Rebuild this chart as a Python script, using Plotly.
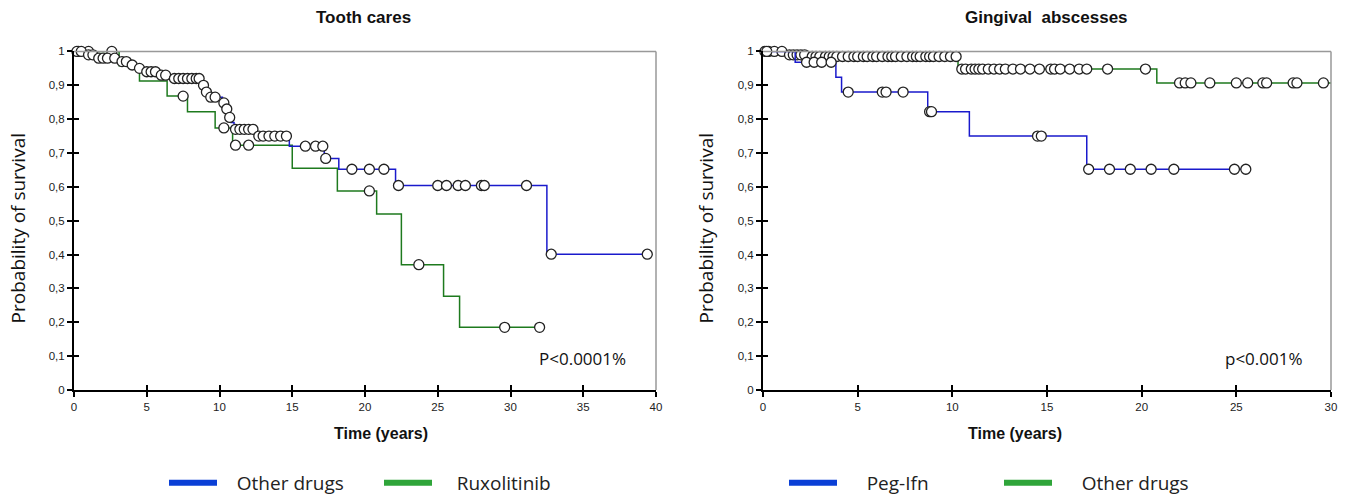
import numpy as np
import plotly.graph_objects as go

# ---------------- DATA ----------------
# Left panel: Tooth cares
tc_other_t = [0, 0.8, 1.5, 3.0, 3.8, 4.3, 4.9, 5.8, 6.6, 8.7, 9.0, 9.2, 10.2, 10.5, 10.6, 10.8, 11.0,
              12.5, 14.8, 17.2, 18.2, 22.1, 32.5, 39.4]
tc_other_s = [1.0, 0.99, 0.98, 0.97, 0.96, 0.95, 0.94, 0.93, 0.92, 0.90, 0.88, 0.865, 0.848, 0.83, 0.805,
              0.79, 0.77, 0.75, 0.72, 0.684, 0.652, 0.604, 0.401, 0.401]
tc_other_cens = [0.2, 0.5, 1.0, 1.3, 1.7, 2.0, 2.3, 2.8, 3.3, 3.6, 4.0, 4.5, 5.0, 5.3, 5.6, 6.0, 6.3, 6.9,
                 7.2, 7.5, 7.8, 8.1, 8.4, 8.6, 8.9, 9.1, 9.4, 9.7, 10.3, 10.5, 10.7, 11.1, 11.4, 11.7,
                 12.0, 12.3, 12.7, 13.0, 13.4, 13.8, 14.2, 14.6, 15.9, 16.6, 17.1, 17.3, 19.1, 20.3,
                 21.3, 22.3, 25.0, 25.6, 26.4, 26.9, 28.0, 28.2, 31.1, 32.8, 39.4]

tc_rux_t = [0, 3.1, 4.5, 6.4, 7.8, 9.7, 10.9, 15.0, 18.1, 20.8, 22.5, 25.4, 26.5, 32.0]
tc_rux_s = [1.0, 0.958, 0.913, 0.868, 0.822, 0.774, 0.723, 0.655, 0.588, 0.52, 0.37, 0.277, 0.185, 0.185]
tc_rux_cens = [0.3, 1.0, 2.6, 7.5, 10.3, 11.1, 12.0, 20.3, 23.7, 29.6, 32.0]

# Right panel: Gingival abscesses
ga_peg_t = [0, 1.7, 3.85, 4.15, 8.7, 10.9, 17.1, 25.5]
ga_peg_s = [1.0, 0.968, 0.924, 0.88, 0.822, 0.75, 0.652, 0.652]
ga_peg_cens = [0.2, 2.3, 2.7, 3.1, 3.6, 4.5, 6.3, 6.5, 7.4, 8.8, 8.9, 14.5, 14.7, 17.2, 18.3,
               19.4, 20.5, 21.7, 24.9, 25.5]

ga_other_t = [0, 1.2, 2.5, 10.3, 20.8, 30.0]
ga_other_s = [1.0, 0.99, 0.985, 0.948, 0.907, 0.907]
ga_other_cens = [0.1, 0.3, 0.6, 1.0, 1.4, 1.6, 1.8, 2.0, 2.2, 2.6, 2.8, 3.0, 3.3, 3.5, 3.7, 3.9, 4.2,
                 4.5, 4.8, 5.0, 5.3, 5.5, 5.8, 6.0, 6.3, 6.6, 6.8, 7.0, 7.3, 7.6, 7.9, 8.1, 8.3, 8.6,
                 8.8, 9.0, 9.3, 9.6, 9.9, 10.2, 10.5, 10.7, 11.0, 11.2, 11.4, 11.6, 11.9, 12.2, 12.5,
                 12.8, 13.2, 13.6, 14.1, 14.6, 15.2, 15.4, 15.7, 16.2, 16.7, 17.1, 18.2, 20.2, 22.0,
                 22.3, 22.6, 23.6, 25.0, 25.6, 26.4, 26.6, 28.0, 28.2, 29.6]

y_tickvals = [0, 0.1, 0.2, 0.3, 0.4, 0.5, 0.6, 0.7, 0.8, 0.9, 1]
y_ticktext = ["0", "0,1", "0,2", "0,3", "0,4", "0,5", "0,6", "0,7", "0,8", "0,9", "1"]
left_xticks = [0, 5, 10, 15, 20, 25, 30, 35, 40]
right_xticks = [0, 5, 10, 15, 20, 25, 30]

BLUE = "#1a1acc"
GREEN = "#1e7a1e"
LEG_BLUE = "#0a3fd6"
LEG_GREEN = "#2fa53a"
FONT = "Liberation Sans"
FONT2 = "Open Sans"


def step_value(times, surv, t):
    idx = np.searchsorted(np.asarray(times), t, side="right") - 1
    return np.asarray(surv)[np.clip(idx, 0, len(surv) - 1)]


fig = go.Figure()


def add_curve(t, s, cens, color, xa, ya):
    fig.add_trace(go.Scatter(x=t, y=s, mode="lines", line=dict(color=color, width=1.5, shape="hv"),
                             xaxis=xa, yaxis=ya, showlegend=False, cliponaxis=False, hoverinfo="skip"))
    fig.add_trace(go.Scatter(x=cens, y=step_value(t, s, cens), mode="markers",
                             marker=dict(symbol="circle", size=10, color="white",
                                         line=dict(color="#222222", width=1.3)),
                             xaxis=xa, yaxis=ya, showlegend=False, cliponaxis=False))


add_curve(tc_rux_t, tc_rux_s, tc_rux_cens, GREEN, "x", "y")
add_curve(tc_other_t, tc_other_s, tc_other_cens, BLUE, "x", "y")
add_curve(ga_other_t, ga_other_s, ga_other_cens, GREEN, "x2", "y2")
add_curve(ga_peg_t, ga_peg_s, ga_peg_cens, BLUE, "x2", "y2")

# invisible traces to activate overlay axes (inner half of crossing ticks)
fig.add_trace(go.Scatter(x=[None], y=[None], xaxis="x3", yaxis="y3", showlegend=False))
fig.add_trace(go.Scatter(x=[None], y=[None], xaxis="x4", yaxis="y4", showlegend=False))

# legend entries
for name, col, leg in [("   Other drugs", LEG_BLUE, "legend"), ("    Ruxolitinib", LEG_GREEN, "legend"),
                       ("     Peg-Ifn", LEG_BLUE, "legend2"), ("     Other drugs", LEG_GREEN, "legend2")]:
    fig.add_trace(go.Scatter(x=[None], y=[None], mode="lines", name=name,
                             line=dict(color=col, width=6), legend=leg, showlegend=True))

W, H = 1347, 502
ydom = [1 - 399.5 / H, 1 - 52.7 / H]
xdom1 = [74 / W, 656 / W]
xdom2 = [763 / W, 1331 / W]

axis_common = dict(showgrid=False, zeroline=False, showline=True, linecolor="black", linewidth=2,
                   ticks="outside", ticklen=5, tickwidth=1.5, tickcolor="black", automargin=False,
                   tickfont=dict(family=FONT, size=11.5, color="#222"))
inner = dict(showgrid=False, zeroline=False, showline=False, ticks="inside", ticklen=5, tickwidth=1.5,
             tickcolor="black", showticklabels=False, automargin=False)

fig.update_layout(
    width=W, height=H, margin=dict(l=0, r=0, t=0, b=0),
    plot_bgcolor="white", paper_bgcolor="white",
    font=dict(family=FONT),
    xaxis=dict(domain=xdom1, range=[0, 40], tickvals=left_xticks, anchor="y", **axis_common),
    yaxis=dict(domain=ydom, range=[0, 1], tickvals=y_tickvals, ticktext=y_ticktext, anchor="x", **axis_common),
    xaxis2=dict(domain=xdom2, range=[0, 30], tickvals=right_xticks, anchor="y2", **axis_common),
    yaxis2=dict(domain=ydom, range=[0, 1], tickvals=y_tickvals, ticktext=y_ticktext, anchor="x2",
                **axis_common),
    xaxis3=dict(domain=xdom1, range=[0, 40], tickvals=left_xticks, anchor="y3", overlaying="x", **inner),
    yaxis3=dict(domain=ydom, range=[0, 1], tickvals=y_tickvals, anchor="x3", overlaying="y", **inner),
    xaxis4=dict(domain=xdom2, range=[0, 30], tickvals=right_xticks, anchor="y4", overlaying="x2", **inner),
    yaxis4=dict(domain=ydom, range=[0, 1], tickvals=y_tickvals, anchor="x4", overlaying="y2", **inner),
    legend=dict(orientation="h", x=164 / W, xanchor="left", y=1 - 495 / H, yanchor="middle",
                font=dict(family=FONT2, size=19, color="#222"), itemwidth=48, entrywidth=152,
                bgcolor="rgba(0,0,0,0)"),
    legend2=dict(orientation="h", x=784 / W, xanchor="left", y=1 - 495 / H, yanchor="middle",
                 font=dict(family=FONT2, size=19, color="#222"), itemwidth=48, entrywidth=152,
                 bgcolor="rgba(0,0,0,0)"),
    showlegend=True,
)

# top / right frame lines (thin gray)
for xr, yr in [("x domain", "y domain"), ("x2 domain", "y2 domain")]:
    fig.add_shape(type="line", xref=xr, yref=yr, x0=0, x1=1, y0=1, y1=1, line=dict(color="#999", width=1.5))
    fig.add_shape(type="line", xref=xr, yref=yr, x0=1, x1=1, y0=0, y1=1, line=dict(color="#999", width=1.5))


def label(text, x, y, size, family=FONT, angle=0, xanchor="center"):
    fig.add_annotation(text=text, xref="paper", yref="paper", x=x / W, y=1 - y / H, xanchor=xanchor,
                       yanchor="middle", textangle=angle, showarrow=False,
                       font=dict(family=family, size=size, color="#111"))


# panel titles
label("<b>Tooth cares</b>", 363, 18, 17)
label("<b>Gingival  abscesses</b>", 1046, 18, 17)
# axis titles
label("<b>Time (years)</b>", 381, 444, 16)
label("<b>Time (years)</b>", 1015, 444, 16)
label("Probability of survival", 18, 234, 19, FONT2, -90)
label("Probability of survival", 706, 234, 19, FONT2, -90)
# p-values
label("P<0.0001%", 628, 367, 17, FONT2, xanchor="right")
label("p<0.001%", 1305, 367, 17, FONT2, xanchor="right")

fig.write_html("out.html", config={"displayModeBar": False},
               post_script="document.body.style.margin='0px';")
